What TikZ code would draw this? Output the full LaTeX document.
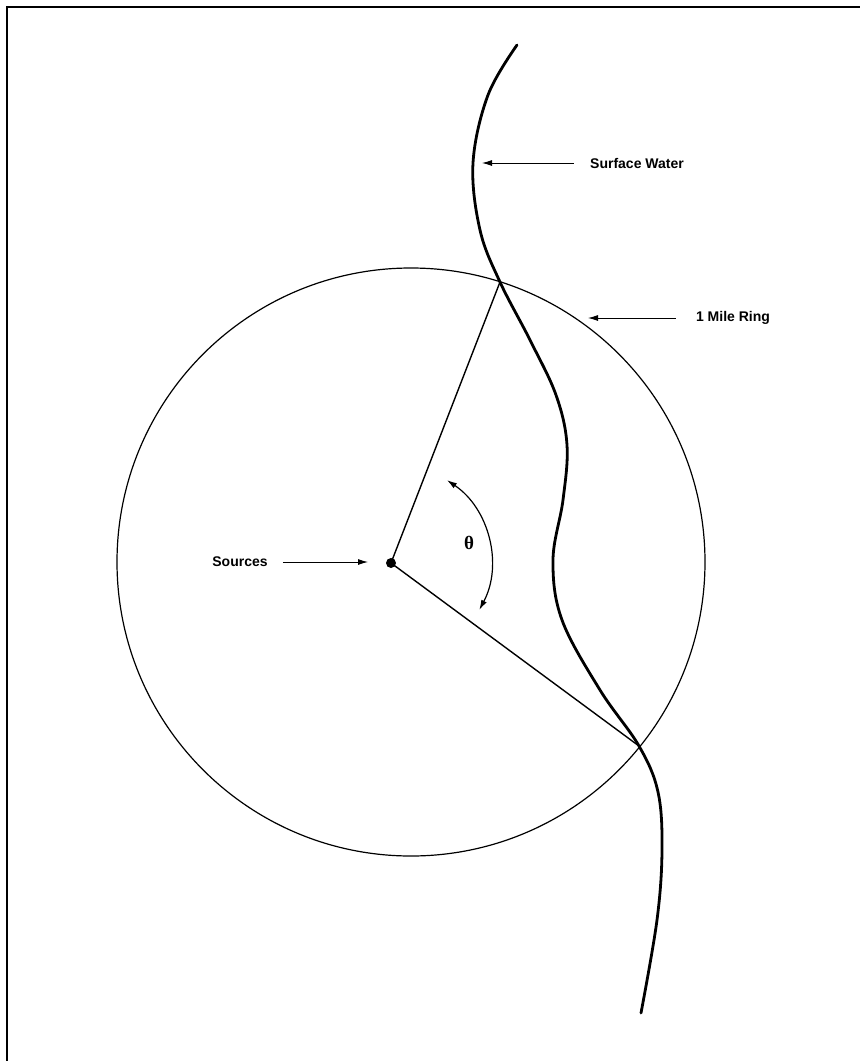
\documentclass[tikz,border=0pt]{standalone}
\usepackage{fontspec}
\setmainfont{Liberation Sans}
\newfontfamily\grkserif{Liberation Serif}
\usetikzlibrary{arrows.meta}
\begin{document}
\begin{tikzpicture}[x=1pt,y=-1pt,
  lbl/.style={font=\fontsize{14}{16}\selectfont\bfseries, inner sep=0pt},
  pointer/.style={line width=0.9pt, -{Latex[length=10pt,width=6pt]}},
  radial/.style={line width=1.4pt},
  ring/.style={line width=1.2pt},
  river/.style={line width=2.8pt, line cap=round},
  frame/.style={line width=2pt}]
\useasboundingbox (0,0) rectangle (860,1061);
% frame
\draw[frame] (7,1061) -- (7,7) -- (860,7);
% ring
\coordinate (ctr) at (411,562);
\draw[ring] (ctr) circle[radius=294];
% points
\coordinate (top) at (500,282);
\coordinate (bot) at (639,746);
\node[circle, fill, inner sep=0pt, minimum size=10pt] (src) at (391,563) {};
% river
\draw[river] plot[smooth, tension=0.6] coordinates {
 (517,45) (488,95) (473,163) (480,230) (top) (530,340) (556,395) (567,445)
 (563,500) (553,560) (562,620) (600,690) (bot) (658,792) (662,850) (657,920) (641,1013)};
% radial lines
\draw[radial] (src.center) -- (top);
\draw[radial] (src.center) -- (bot);
% angle arc
\coordinate (arcstart) at (446.9,480.1);
\draw[line width=1.2pt, {Latex[length=10pt,width=6pt]}-{Latex[length=10pt,width=6pt]}]
  (arcstart) arc[start angle=-56, end angle=28, radius=100];
\node[font=\grkserif\bfseries\fontsize{19}{19}\selectfont, inner sep=0pt] (theta) at (469,543) {θ};
% labels
\node[lbl] (sw) at (637,163) {Surface Water};
\node[lbl] (mr) at (733,318) {1 Mile Ring};
\node[lbl] (so) at (240,562) {Sources};
\coordinate (swtip) at (482,163);
\coordinate (mrtip) at (588,318);
\coordinate (sotip) at (368,562);
\draw[pointer] ([xshift=-16pt]sw.west) -- (swtip);
\draw[pointer] ([xshift=-20pt]mr.west) -- (mrtip);
\draw[pointer] ([xshift=15pt]so.east) -- (sotip);
\end{tikzpicture}
\end{document}
